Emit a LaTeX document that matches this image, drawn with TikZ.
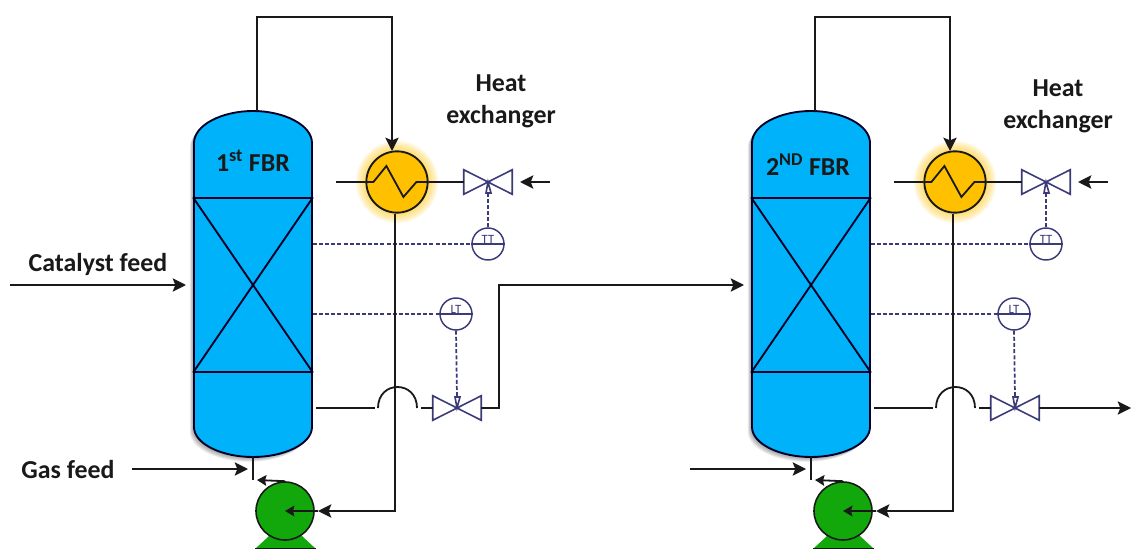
\documentclass[tikz,border=0pt]{standalone}
\usepackage{fontspec}
\setmainfont{Carlito}
\usepackage{tikz}
\usetikzlibrary{arrows.meta,positioning}
\definecolor{fbrblue}{HTML}{00B2FA}
\definecolor{hxgold}{HTML}{FFC000}
\definecolor{pumpgreen}{HTML}{12A80C}
\definecolor{instnavy}{HTML}{3A3A78}
\tikzset{
  pipe/.style={line width=1.35pt,color=black!90},
  bigarrow/.style={-{Stealth[length=10pt,width=10pt,inset=2pt]}},
  smallarrow/.style={-{Stealth[length=7pt,width=8pt,inset=1pt]}},
  instline/.style={line width=1.3pt,color=instnavy,dash pattern=on 3pt off 1.6pt},
  vesselline/.style={line width=1.4pt,draw=black!85!blue},
  bedbox/.style={rectangle,vesselline,minimum width=88.5pt,minimum height=130pt,inner sep=0pt},
  hxcirc/.style={circle,draw=black!90,line width=1.4pt,fill=hxgold,minimum size=46pt,inner sep=0pt},
  pumpcirc/.style={circle,draw=black!90,line width=1.2pt,fill=pumpgreen,minimum size=43.5pt,inner sep=0pt},
  valvebox/.style={rectangle,minimum width=36pt,minimum height=18pt,inner sep=0pt},
  valveline/.style={line width=1.2pt,color=instnavy},
  tcirc/.style={circle,draw=instnavy,line width=1.1pt,fill=white,minimum size=24pt,inner sep=0pt},
  tlabel/.style={text=instnavy,font=\fontsize{9.5}{9.5}\selectfont,inner sep=0pt},
  lbl/.style={font=\fontsize{19.4}{24}\selectfont\bfseries,align=center,text=black!90,inner sep=0pt},
}
\newcommand{\drawvalve}[1]{\draw[valveline] (#1.north west) -- (#1.south east) -- (#1.north east) -- (#1.south west) -- cycle;}
\newcommand{\vesselpath}{(194,143) .. controls (194,125) and (222,111) .. (253,111) .. controls (284,111) and (312,125) .. (312,143) -- (312,427) .. controls (312,444) and (284,457) .. (253,457) .. controls (222,457) and (194,444) .. (194,427) -- cycle}

\begin{document}
\begin{tikzpicture}[x=.75pt,y=-.75pt,>=Stealth]
  \useasboundingbox (0,0) rectangle (1131,549);
  \foreach \u/\dx in {a/0,b/558}{
  \begin{scope}[shift={(\dx,0)}]
    % vessel
    \foreach \s in {1,2,3,4,5,6}
      \fill[black,opacity=.07] [shift={(-\s*.7,\s*.8)}] \vesselpath;
    \fill[fbrblue] \vesselpath;
    \draw[vesselline] \vesselpath;
    \node[bedbox] (\u-bed) at (253,285) {};
    \draw[vesselline] (\u-bed.north west) -- (\u-bed.south east);
    \draw[vesselline] (\u-bed.north east) -- (\u-bed.south west);
    \coordinate (\u-top) at (257,111);
    \coordinate (\u-hxin) at (392,151);
    \coordinate (\u-feed) at (186,285);
    \coordinate (\u-out) at (316,408);
    \coordinate (\u-jl) at (378,408);
    \coordinate (\u-jr) at (417,408);
    \coordinate (\u-jend) at (421,408);
    % heat exchanger
    \foreach \r in {33,35,37,39,41}
      \fill[hxgold,opacity=.13] (397,182) circle [radius=\r];
    \node[hxcirc] (\u-hx) at (397,182) {};
    \draw[pipe] (\u-hx.west) -- ++(8,0) -- ++(13,-16) -- ++(17,31) -- ++(13,-15) -- (\u-hx.east);
    \coordinate (\u-hxleft) at (336,182);
    \coordinate (\u-hxout) at (395,214);
    \coordinate (\u-cool) at (550,182);
    \coordinate (\u-coolin) at (520,182);
    \node[valvebox] (\u-va) at (488,182) {};
    \node[valvebox] (\u-vb) at (457,408) {};
    \drawvalve{\u-va}
    \drawvalve{\u-vb}
    \node[tcirc] (\u-tt) at (488,244) {};
    \node[tcirc] (\u-lt) at (456,314) {};
    \draw[valveline] (\u-tt.west) -- (\u-tt.east);
    \draw[valveline] (\u-lt.west) -- (\u-lt.east);
    \node[tlabel,above=.5pt of \u-tt.center] (\u-ttl) {TT};
    \node[tlabel,above=.5pt of \u-lt.center] (\u-ltl) {LT};
    \coordinate (\u-acta) at (488,193);
    \coordinate (\u-actb) at (457,397);
    \draw[valveline] (\u-va.center) -- ++(-2,11) -- ++(5,0) -- cycle;
    \draw[valveline] (\u-vb.center) -- ++(-2,-11) -- ++(5,0) -- cycle;
    % instrument lines
    \draw[instline] (\u-bed.east |- \u-tt.west) -- (\u-tt.west);
    \draw[instline] (\u-bed.east |- \u-lt.west) -- (\u-lt.west);
    \draw[instline] (\u-tt.north) -- (\u-acta);
    \draw[instline] (\u-lt.south) -- (\u-actb);
    % pump
    \fill[pumpgreen] (255,549) -- (269,536) -- (302,536) -- (316,549) -- cycle;
    \draw[pipe] (255,548.5) -- (316,548.5);
    \node[pumpcirc] (\u-pump) at (285,511) {};
    \coordinate (\u-pin) at (318,511);
    \coordinate (\u-pnozzle) at (257,480);
    \coordinate (\u-vbot) at (253,457);
    \coordinate (\u-stub) at (253,480);
    \coordinate (\u-gas) at (132,469);
    \coordinate (\u-gasin) at (248,469);
    % pipes
    \draw[pipe,bigarrow] (\u-top) -- ++(0,-94) -| (\u-hxin);
    \draw[pipe] (\u-hxleft) -- (\u-hx.west);
    \draw[pipe] (\u-hx.east) -- (\u-va.west);
    \draw[pipe,bigarrow] (\u-cool) -- (\u-coolin);
    \draw[pipe,bigarrow] (\u-hxout) |- (\u-pin);
    \draw[pipe,smallarrow] (\u-pin) -- (\u-pump.center);
    \draw[pipe,smallarrow] (\u-pump.north) -- (\u-pnozzle);
    \draw[pipe] (\u-vbot) -- (\u-stub);
    \draw[pipe,bigarrow] (\u-gas) -- (\u-gasin);
    \draw[pipe] (\u-out) -- (375,408);
    \draw[pipe] (\u-jl) .. controls (378,380) and (417,380) .. (\u-jr);
    \draw[pipe] (\u-jend) -- (\u-vb.west);
  \end{scope}
  }
  \coordinate (cat) at (10,285);
  \coordinate (prod) at (1131,408);
  \draw[pipe,bigarrow] (cat) -- (a-feed);
  \draw[pipe,bigarrow] (a-vb.east) -- ++(18,0) |- (b-feed);
  \draw[pipe,bigarrow] (b-vb.east) -- (prod);
  \node[lbl] (catl) at (98,264) {Catalyst feed};
  \node[lbl] (gasl) at (68,470) {Gas feed};
  \node[lbl] (fbra) at (253,161) {1\textsuperscript{st} FBR};
  \node[lbl] (fbrb) at (808,165) {2\textsuperscript{ND} FBR};
  \node[lbl] (hxa) at (501,101) {Heat\\exchanger};
  \node[lbl] (hxb) at (1058,106) {Heat\\exchanger};
\end{tikzpicture}
\end{document}
